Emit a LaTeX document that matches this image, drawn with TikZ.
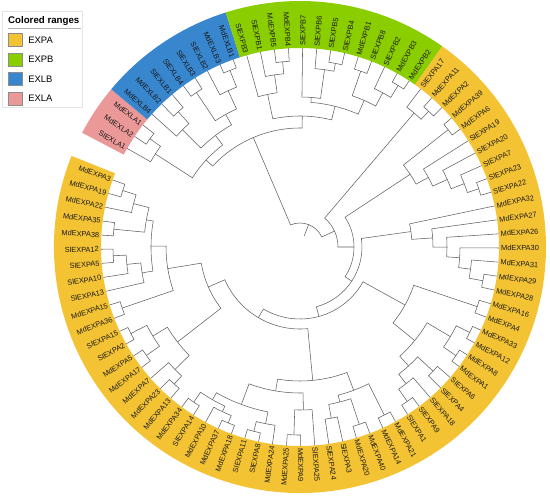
\documentclass[tikz,border=0pt]{standalone}
\usepackage{fontspec}
\setmainfont{Liberation Sans}
\usetikzlibrary{positioning}

\definecolor{expacol}{RGB}{244,195,52}
\definecolor{expbcol}{RGB}{138,206,0}
\definecolor{exlbcol}{RGB}{56,134,206}
\definecolor{exlacol}{RGB}{234,152,152}

\tikzset{
  branch/.style={draw=black!62, line width=0.55pt},
  leaflbl/.style={font=\fontsize{7.4}{8}\selectfont, inner sep=0pt, text=black!90},
  swatch/.style={draw=black!45, minimum width=14pt, minimum height=13pt, inner sep=0pt},
  legtext/.style={font=\fontsize{9.4}{10}\selectfont, inner sep=0pt, anchor=west}
}

% leaf: name, slot number (clockwise from SlEXLA1)
\newcommand{\treeleaf}[2]{%
  \pgfmathsetmacro{\lfang}{150.3-4.0698*#2}%
  \expandafter\xdef\csname ang#1\endcsname{\lfang}%
  \coordinate (#1) at (\lfang:199pt);
  \pgfmathtruncatemacro{\lfside}{cos(\lfang)>=0}%
  \ifnum\lfside=1
    \node[leaflbl, anchor=west, rotate=\lfang] (t#1) at (\lfang:201pt) {#1};
  \else
    \pgfmathsetmacro{\lfrot}{\lfang+180}%
    \node[leaflbl, anchor=east, rotate=\lfrot] (t#1) at (\lfang:201pt) {#1};
  \fi
}
% clade: name, radius, first child, second child
\newcommand{\treeclade}[4]{%
  \edef\brA{\csname ang#3\endcsname}%
  \edef\brB{\csname ang#4\endcsname}%
  \pgfmathsetmacro{\brM}{(\brA+\brB)/2}%
  \expandafter\xdef\csname ang#1\endcsname{\brM}%
  \draw[branch] (#3) -- (\brA:#2pt) arc[start angle=\brA, end angle=\brB, radius=#2pt] -- (#4);
  \coordinate (#1) at (\brM:#2pt);
}
% coloured range: colour, first slot, last slot
\newcommand{\colrange}[3]{%
  \pgfmathsetmacro{\rgA}{150.3-4.0698*#2+2.035}%
  \pgfmathsetmacro{\rgB}{150.3-4.0698*#3-2.035}%
  \fill[#1] (\rgA:199pt) arc[start angle=\rgA, end angle=\rgB, radius=199pt]
    -- (\rgB:246pt) arc[start angle=\rgB, end angle=\rgA, radius=246pt] -- cycle;
}

\begin{document}
\begin{tikzpicture}
\useasboundingbox (-300pt,-252pt) rectangle (250pt,247pt);

% coloured ranges
\colrange{exlacol}{0}{2}
\colrange{exlbcol}{3}{10}
\colrange{expbcol}{11}{23}
\colrange{expacol}{24}{86}

% leaves
\foreach \nm [count=\i from 0] in {SlEXLA1, MdEXLA2, MdEXLA1, MdEXLB4, MdEXLB2, SlEXLB1, SlEXLB4, SlEXLB3, SlEXLB2, MdEXLB3, MdEXLB1,
  SlEXPB3, SlEXPB1, MdEXPB5, MdEXPB4, SlEXPB7, SlEXPB6, SlEXPB5, SlEXPB4, MdEXPB1, SlEXPB8, SlEXPB2, MdEXPB3, MdEXPB2,
  SlEXPA17, MdEXPA11, MdEXPA2, MdEXPA39, MdEXPA6, SlEXPA19, SlEXPA20, SlEXPA7, SlEXPA23, SlEXPA22, MdEXPA32, MdEXPA27,
  MdEXPA26, MdEXPA30, MdEXPA31, MdEXPA29, MdEXPA28, MdEXPA16, MdEXPA4, MdEXPA33, MdEXPA12, MdEXPA8, MdEXPA1, SlEXPA6,
  SlEXPA4, SlEXPA18, SlEXPA9, SlEXPA1, MdEXPA21, MdEXPA14, MdEXPA40, MdEXPA20, SlEXPA3, SlEXPA24, SlEXPA25, MdEXPA9,
  MdEXPA25, MdEXPA24, SlEXPA8, SlEXPA11, MdEXPA18, MdEXPA37, MdEXPA10, SlEXPA14, MdEXPA34, MdEXPA13, MdEXPA23, MdEXPA7,
  MdEXPA17, MdEXPA5, SlEXPA2, SlEXPA15, MdEXPA36, MdEXPA15, SlEXPA13, SlEXPA10, SlEXPA5, SlEXPA12, MdEXPA38, MdEXPA35,
  MdEXPA22, MdEXPA19, MdEXPA3}
  {\treeleaf{\nm}{\i}}

% EXLA / EXLB
\treeclade{la12}{185}{MdEXLA2}{MdEXLA1}
\treeclade{la}{172}{SlEXLA1}{la12}
\treeclade{lb21}{182}{MdEXLB2}{SlEXLB1}
\treeclade{lb4}{166}{MdEXLB4}{lb21}
\treeclade{lb43}{186}{SlEXLB4}{SlEXLB3}
\treeclade{lb31}{190}{MdEXLB3}{MdEXLB1}
\treeclade{lb2}{172}{SlEXLB2}{lb31}
\treeclade{lbr}{152}{lb43}{lb2}
\treeclade{lb}{140}{lb4}{lbr}
\treeclade{lalb}{128}{la}{lb}
% EXPB
\treeclade{pb54}{186}{MdEXPB5}{MdEXPB4}
\treeclade{pb1}{174}{SlEXPB1}{pb54}
\treeclade{pbl}{156}{SlEXPB3}{pb1}
\treeclade{pb54s}{187}{SlEXPB5}{SlEXPB4}
\treeclade{pb6}{179}{SlEXPB6}{pb54s}
\treeclade{pb7}{150}{SlEXPB7}{pb6}
\treeclade{pb18}{186}{MdEXPB1}{SlEXPB8}
\treeclade{pb32}{189}{MdEXPB3}{MdEXPB2}
\treeclade{pb2}{175}{SlEXPB2}{pb32}
\treeclade{pbrr}{160}{pb18}{pb2}
\treeclade{pbr}{145}{pb7}{pbrr}
\treeclade{pb}{131}{pbl}{pbr}
\treeclade{cladeA}{119}{lalb}{pb}
% EXPA, upper right
\treeclade{pa112}{187}{MdEXPA11}{MdEXPA2}
\treeclade{pa17}{176}{SlEXPA17}{pa112}
\treeclade{pa396}{189}{MdEXPA39}{MdEXPA6}
\treeclade{pa2322}{188}{SlEXPA23}{SlEXPA22}
\treeclade{pa7}{176}{SlEXPA7}{pa2322}
\treeclade{pa20}{162}{SlEXPA20}{pa7}
\treeclade{pa19}{146}{SlEXPA19}{pa20}
\treeclade{cladeC}{132}{pa396}{pa19}
\treeclade{pa2928}{186}{MdEXPA29}{MdEXPA28}
\treeclade{pa31}{172}{MdEXPA31}{pa2928}
\treeclade{pa30}{160}{MdEXPA30}{pa31}
\treeclade{pa26}{147}{MdEXPA26}{pa30}
\treeclade{pa27}{133}{MdEXPA27}{pa26}
\treeclade{cladeE}{112}{MdEXPA32}{pa27}
% EXPA, lower right
\treeclade{pa164}{187}{MdEXPA16}{MdEXPA4}
\treeclade{pa3312}{190}{MdEXPA33}{MdEXPA12}
\treeclade{pa81}{190}{MdEXPA8}{MdEXPA1}
\treeclade{paQ}{175}{pa3312}{pa81}
\treeclade{pa64}{182}{SlEXPA6}{SlEXPA4}
\treeclade{pa91}{188}{SlEXPA9}{SlEXPA1}
\treeclade{pa18}{173}{SlEXPA18}{pa91}
\treeclade{paR}{161}{pa64}{pa18}
\treeclade{paS}{148}{paQ}{paR}
\treeclade{paT}{120}{pa164}{paS}
% EXPA, bottom
\treeclade{pa2114}{188}{MdEXPA21}{MdEXPA14}
\treeclade{pa4020}{187}{MdEXPA40}{MdEXPA20}
\treeclade{pa324}{174}{SlEXPA3}{SlEXPA24}
\treeclade{paW}{160}{pa4020}{pa324}
\treeclade{paU}{153}{pa2114}{paW}
\treeclade{pa925}{188}{MdEXPA9}{MdEXPA25}
\treeclade{paV}{163}{SlEXPA25}{pa925}
\treeclade{pa811}{190}{SlEXPA8}{SlEXPA11}
\treeclade{paX}{180}{MdEXPA24}{pa811}
\treeclade{pa1837}{190}{MdEXPA18}{MdEXPA37}
\treeclade{paZ}{182}{pa1837}{MdEXPA10}
\treeclade{pa1434}{188}{SlEXPA14}{MdEXPA34}
\treeclade{paZZ}{176}{paZ}{pa1434}
\treeclade{paBot}{168}{paX}{paZZ}
\treeclade{paVB}{146}{paV}{paBot}
\treeclade{paBotB}{134}{paU}{paVB}
% EXPA, left
\treeclade{pa1323}{186}{MdEXPA13}{MdEXPA23}
\treeclade{paL1}{175}{pa1323}{MdEXPA7}
\treeclade{pa175}{188}{MdEXPA17}{MdEXPA5}
\treeclade{pa215}{190}{SlEXPA2}{SlEXPA15}
\treeclade{paL2}{172}{pa175}{pa215}
\treeclade{paL3}{155}{paL1}{paL2}
\treeclade{pa3615}{188}{MdEXPA36}{MdEXPA15}
\treeclade{pa512}{187}{SlEXPA5}{SlEXPA12}
\treeclade{paL4}{174}{SlEXPA10}{pa512}
\treeclade{paL5}{160}{SlEXPA13}{paL4}
\treeclade{pa3835}{187}{MdEXPA38}{MdEXPA35}
\treeclade{pa193}{186}{MdEXPA19}{MdEXPA3}
\treeclade{paL7}{172}{MdEXPA22}{pa193}
\treeclade{paL8}{156}{pa3835}{paL7}
\treeclade{paN}{149}{paL5}{paL8}
\treeclade{paL6}{134}{pa3615}{paN}
\treeclade{paL10}{100}{paL3}{paL6}
% backbone
\treeclade{cladeD3}{82}{paBotB}{paL10}
\treeclade{cladeD2}{72}{paT}{cladeD3}
\treeclade{cladeD}{62}{cladeE}{cladeD2}
\treeclade{cladeB2}{54}{cladeC}{cladeD}
\treeclade{cladeB}{38}{pa17}{cladeB2}
\treeclade{root}{24}{cladeA}{cladeB}
\edef\rootang{\csname angroot\endcsname}
\draw[branch] (root) -- (\rootang:12pt);

% legend
\draw[black!10] (-298pt,236pt) rectangle (-218pt,140pt);
\node[font=\bfseries\fontsize{9.7}{11}\selectfont, anchor=west, inner sep=0pt] (legtitle) at (-292pt,226.3pt) {Colored ranges};
\draw[black!30, line width=1pt] (-292pt,219pt) -- (-219pt,219pt);
\foreach \nm/\col [count=\k] in {EXPA/expacol, EXPB/expbcol, EXLB/exlbcol, EXLA/exlacol} {
  \node[swatch, fill=\col] (sw\k) at (-285pt,{(226.4-19.4*\k)*1pt}) {};
  \node[legtext, right=6pt of sw\k] (lg\k) {\nm};
}
\end{tikzpicture}
\end{document}
